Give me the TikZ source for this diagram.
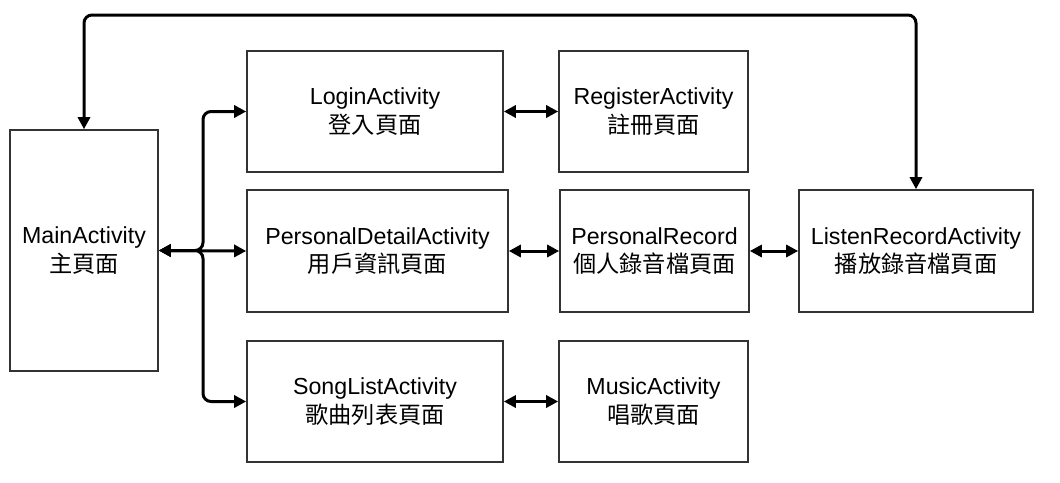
\documentclass[tikz,border=0pt]{standalone}
\usepackage{fontspec}
\setmainfont{Liberation Sans}
\newfontfamily\cjk{Noto Sans CJK TC}
\usetikzlibrary{arrows.meta}
\tikzset{
  box/.style={draw=black!80, line width=1.6pt, rectangle, align=center, inner sep=0pt,
    font=\fontsize{23.2}{28.5}\selectfont},
  conn/.style={line width=3pt, rounded corners=8pt,
    {Triangle[length=12pt,width=12pt]}-{Triangle[length=12pt,width=12pt]}},
}
\begin{document}
\begin{tikzpicture}[x=1pt,y=-1pt]
\useasboundingbox (0,0) rectangle (1060,482);
\node[box, minimum width=148pt, minimum height=241pt] (main) at (84,250.5) {MainActivity\\{\cjk 主頁面}};
\node[box, minimum width=256pt, minimum height=121pt] (login) at (375,111.5) {LoginActivity\\{\cjk 登入頁面}};
\node[box, minimum width=189pt, minimum height=121pt] (reg) at (653.5,111.5) {RegisterActivity\\{\cjk 註冊頁面}};
\node[box, minimum width=261pt, minimum height=122pt] (pd) at (377.5,251) {PersonalDetailActivity\\{\cjk 用戶資訊頁面}};
\node[box, minimum width=189pt, minimum height=122pt] (pr) at (654.5,251) {PersonalRecord\\{\cjk 個人錄音檔頁面}};
\node[box, minimum width=234pt, minimum height=122pt] (listen) at (916,251) {ListenRecordActivity\\{\cjk 播放錄音檔頁面}};
\node[box, minimum width=256pt, minimum height=121pt] (song) at (375,401.5) {SongListActivity\\{\cjk 歌曲列表頁面}};
\node[box, minimum width=189pt, minimum height=121pt] (music) at (653.5,401.5) {MusicActivity\\{\cjk 唱歌頁面}};
\coordinate (fork) at (203,250.5);
\coordinate (top) at (500,15);
\draw[conn] (main.east) -- (fork) |- (login.west);
\draw[conn] (main.east) -- (pd.west);
\draw[conn] (main.east) -- (fork) |- (song.west);
\draw[conn] (login.east) -- (reg.west);
\draw[conn] (pd.east) -- (pr.west);
\draw[conn] (pr.east) -- (listen.west);
\draw[conn] (song.east) -- (music.west);
\draw[line width=3pt, rounded corners=8pt, -{Triangle[length=12pt,width=12pt]}] (top) -| (main.north);
\draw[line width=3pt, rounded corners=8pt, -{Triangle[length=12pt,width=12pt]}] (top) -| (listen.north);
\end{tikzpicture}
\end{document}
